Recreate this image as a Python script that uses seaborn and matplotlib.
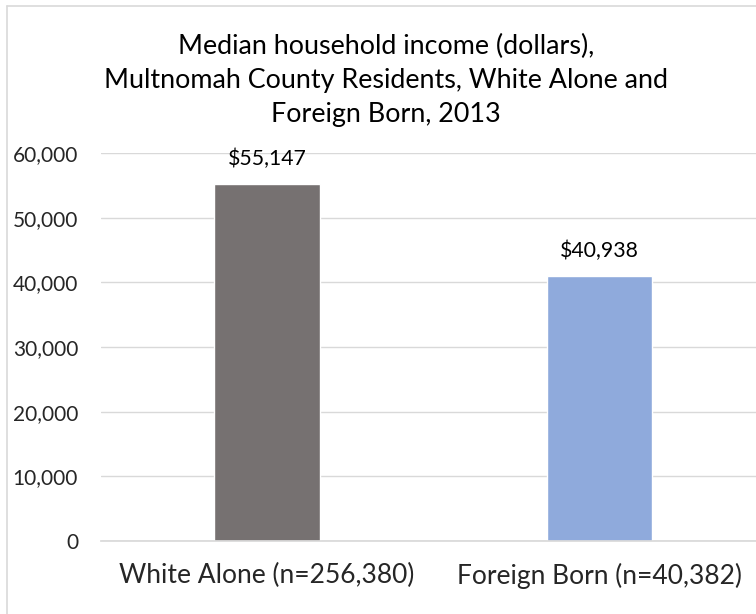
import pandas as pd
import seaborn as sns
import matplotlib.pyplot as plt
from matplotlib.lines import Line2D

groups = ["White Alone (n=256,380)", "Foreign Born (n=40,382)"]
incomes = [55147, 40938]
bar_colors = ["#767171", "#8FAADC"]
title = "Median household income (dollars),\nMultnomah County Residents, White Alone and\nForeign Born, 2013"


def set_config():
    sns.set_theme(style="white")
    plt.rcParams['font.family'] = ["Lato", "DejaVu Sans"]
    plt.rcParams['text.color'] = "#000000"


def main():
    set_config()
    df = pd.DataFrame({"group": groups, "income": incomes})

    fig = plt.figure(figsize=(7.56, 6.14), dpi=100)
    # plot area runs off the right edge, as in the source screenshot
    ax = fig.add_axes([101 / 756, 73 / 614, 655 / 756, 388 / 614])

    sns.barplot(data=df, x="group", y="income", hue="group", palette=bar_colors,
                width=0.317, legend=False, ax=ax, saturation=1)

    ax.set_ylim(0, 60000)
    ax.set_xlim(-0.50, 1.471)
    ax.set_yticks(range(0, 60001, 10000))
    ax.yaxis.set_major_formatter(plt.FuncFormatter(lambda v, p: f"{int(v):,}"))
    ax.yaxis.grid(True, color="#D9D9D9", linewidth=1)
    ax.set_axisbelow(True)
    for s in ["top", "right", "left"]:
        ax.spines[s].set_visible(False)
    ax.spines["bottom"].set_color("#D9D9D9")
    ax.tick_params(axis="y", labelsize=15, pad=16.5, length=0)
    ax.tick_params(axis="x", labelsize=19, pad=16, length=0)
    ax.set_xlabel("")
    ax.set_ylabel("")

    for i, v in enumerate(incomes):
        ax.text(i, v + 2300, f"${v:,}", ha="center", va="bottom", fontsize=15.3)

    fig.text(386 / 756, 1 - 34 / 614, title, ha="center", va="top",
             fontsize=19.4, linespacing=1.45)

    # light frame round the chart area
    fig.add_artist(Line2D([7 / 756, 7 / 756], [0, 1 - 6 / 614], color="#D9D9D9", lw=1.2))
    fig.add_artist(Line2D([7 / 756, 1], [1 - 6 / 614, 1 - 6 / 614], color="#D9D9D9", lw=1.2))

    fig.savefig("out.png", dpi=100)


if __name__ == "__main__":
    main()
